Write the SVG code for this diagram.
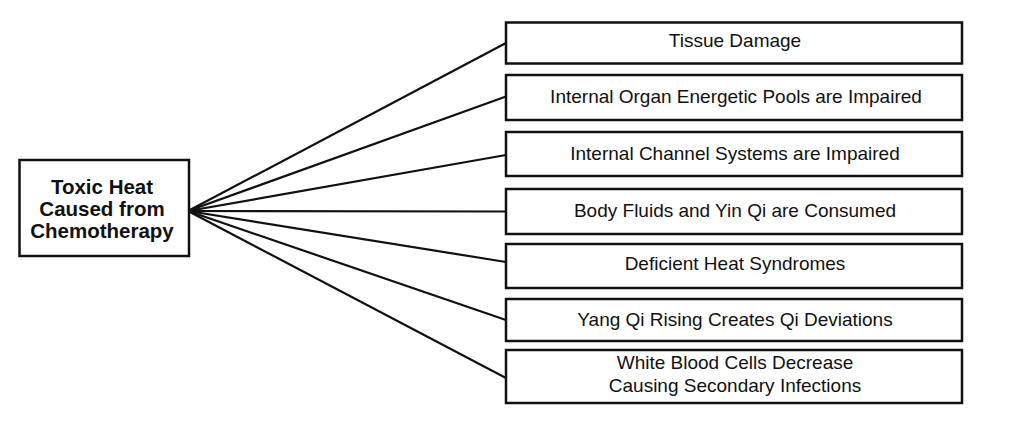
<svg xmlns="http://www.w3.org/2000/svg" width="1024" height="422" viewBox="0 0 1024 422">
<style>
.box{fill:#fff;stroke:#111;stroke-width:2.5}
.lbl{font-family:"Liberation Sans",Arial,sans-serif;font-size:19px;fill:#111;text-anchor:middle}
.hub{font-family:"Liberation Sans",Arial,sans-serif;font-size:20.5px;font-weight:bold;fill:#111;text-anchor:middle}
.conn{stroke:#111;stroke-width:2.2;fill:none}
</style>
<rect width="1024" height="422" fill="#fff"/>
<g id="connectors">
<line class="conn" x1="188" y1="211" x2="506" y2="43"/>
<line class="conn" x1="188" y1="211" x2="506" y2="96.5"/>
<line class="conn" x1="188" y1="211" x2="506" y2="155"/>
<line class="conn" x1="188" y1="211" x2="506" y2="211.5"/>
<line class="conn" x1="188" y1="211" x2="506" y2="262"/>
<line class="conn" x1="188" y1="211" x2="506" y2="320"/>
<line class="conn" x1="188" y1="211" x2="506" y2="378"/>
</g>
<g id="source">
<rect class="box" x="19.5" y="160" width="169.5" height="96"/>
<text class="hub" x="102" y="194">Toxic Heat</text>
<text class="hub" x="102" y="216">Caused from</text>
<text class="hub" x="102" y="238">Chemotherapy</text>
</g>
<g id="n1">
<rect class="box" x="506" y="22.5" width="456" height="41"/>
<text class="lbl" x="735" y="47">Tissue Damage</text>
</g>
<g id="n2">
<rect class="box" x="506" y="75" width="456" height="45"/>
<text class="lbl" x="736" y="103">Internal Organ Energetic Pools are Impaired</text>
</g>
<g id="n3">
<rect class="box" x="506" y="132" width="456" height="44"/>
<text class="lbl" x="735" y="160">Internal Channel Systems are Impaired</text>
</g>
<g id="n4">
<rect class="box" x="506" y="189" width="456" height="45"/>
<text class="lbl" x="735" y="217">Body Fluids and Yin Qi are Consumed</text>
</g>
<g id="n5">
<rect class="box" x="506" y="244" width="456" height="44"/>
<text class="lbl" x="735" y="270">Deficient Heat Syndromes</text>
</g>
<g id="n6">
<rect class="box" x="506" y="299" width="456" height="42"/>
<text class="lbl" x="735" y="325.5">Yang Qi Rising Creates Qi Deviations</text>
</g>
<g id="n7">
<rect class="box" x="506" y="350" width="456" height="53"/>
<text class="lbl" x="735" y="368.5">White Blood Cells Decrease</text>
<text class="lbl" x="735" y="392">Causing Secondary Infections</text>
</g>
</svg>
